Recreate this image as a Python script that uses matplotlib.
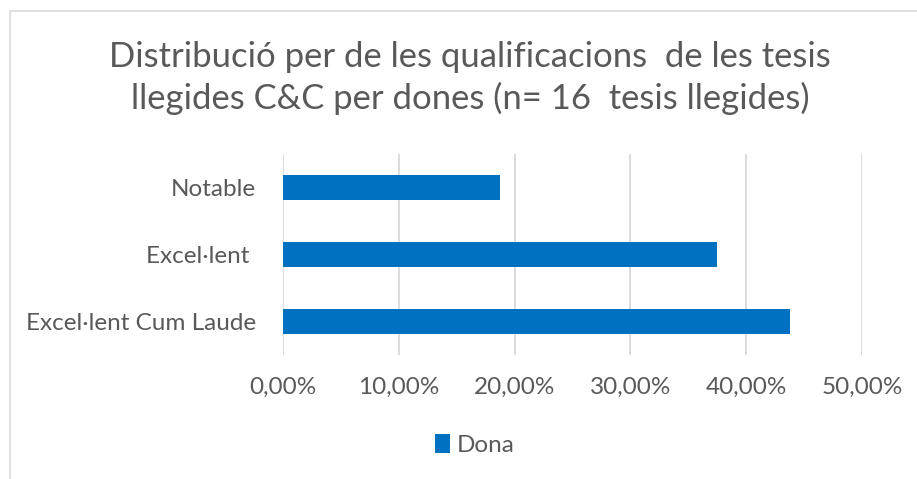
import matplotlib
matplotlib.use("Agg")
import matplotlib.pyplot as plt
from matplotlib.patches import Rectangle
from matplotlib.ticker import FuncFormatter

categories = ["Excel·lent Cum Laude", "Excel·lent ", "Notable"]
values = [0.4375, 0.375, 0.1875]
series_name = "Dona"
title = "Distribució per de les qualificacions  de les tesis\nllegides C&C per dones (n= 16  tesis llegides)"

W, H = 917, 479
DPI = 100
plt.rcParams['font.family'] = ['Lato', 'DejaVu Sans']
TXT = '#595959'
GRID = '#D9D9D9'
BAR = '#0070C0'

fig = plt.figure(figsize=(W / DPI, H / DPI), dpi=DPI)
fig.patch.set_facecolor('white')

# outer chart border
fig.add_artist(Rectangle((9.5 / W, -0.1), 2, (H - 10.5) / H + 0.1, transform=fig.transFigure,
                         fill=False, edgecolor=GRID, linewidth=1.2))

x0, x1 = 283, 862
ytop, ybot = 154, 355
ax = fig.add_axes([x0 / W, 1 - ybot / H, (x1 - x0) / W, (ybot - ytop) / H])
ypos = list(range(len(categories)))
ax.barh(ypos, values, height=0.37, color=BAR, label=series_name, zorder=3)
ax.set_xlim(0, 0.5)
ax.set_ylim(-0.5, len(categories) - 0.5)
ax.set_xticks([0, 0.1, 0.2, 0.3, 0.4, 0.5])
ax.xaxis.set_major_formatter(FuncFormatter(lambda v, p: f"{v*100:.2f}%".replace('.', ',')))
ax.set_yticks(ypos)
ax.set_yticklabels(categories)
ax.grid(axis='x', color=GRID, linewidth=1.3, zorder=0)
for s in ax.spines.values():
    s.set_visible(False)
ax.tick_params(axis='both', length=0, colors=TXT, labelsize=17.5)
ax.tick_params(axis='x', pad=16)
ax.tick_params(axis='y', pad=19.5)

fig.text(470 / W, 1 - 78 / H, title, ha='center', va='center', fontsize=24.9,
         color=TXT, linespacing=1.3)

leg = fig.legend(loc='center', bbox_to_anchor=(475 / W, 1 - 445 / H), frameon=False,
                 fontsize=17.5, labelcolor=TXT, handlelength=0.6, handleheight=0.8,
                 handletextpad=0.3)

fig.savefig('out.png', dpi=DPI)
